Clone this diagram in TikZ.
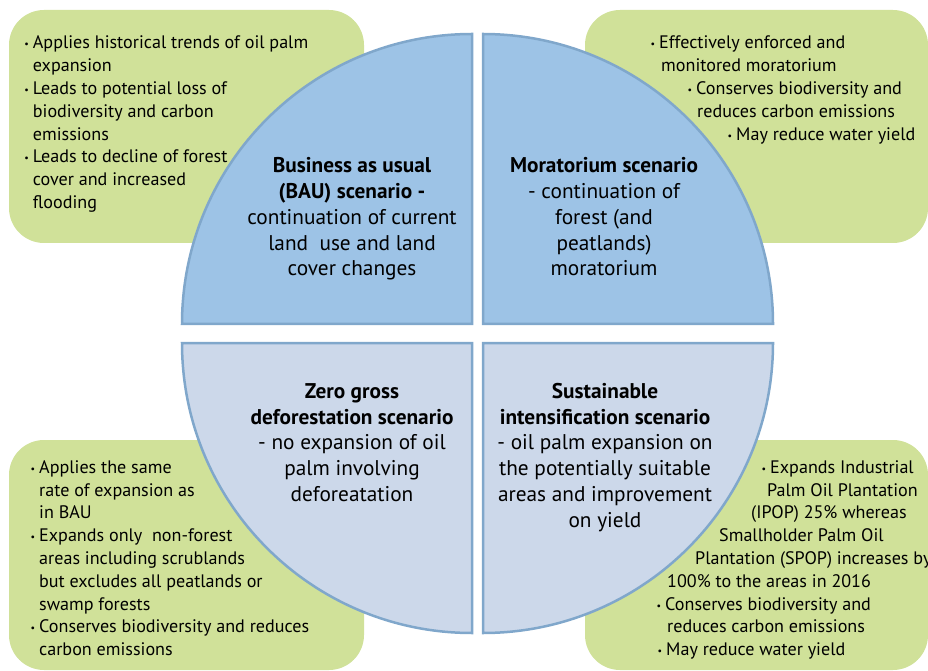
\documentclass[tikz,border=0pt]{standalone}
\usepackage{fontspec}
\setmainfont{PT Sans}
\definecolor{notegreen}{RGB}{208,225,153}
\definecolor{topblue}{RGB}{157,195,230}
\definecolor{lowblue}{RGB}{204,216,234}
\definecolor{quadline}{RGB}{128,167,203}
\newcommand{\bl}{\llap{\raisebox{1pt}{\fontsize{10}{10}\selectfont\textbullet}\hspace{4pt}}}

\begin{document}
\begin{tikzpicture}[x=1pt,y=1pt,
  note/.style={fill=notegreen,rounded corners=35pt},
  quad/.style={draw=quadline,line width=2.5pt,line join=miter},
  item/.style={anchor=base west,inner sep=0pt,font=\fontsize{18.1}{18}\selectfont},
  head/.style={anchor=base,inner sep=0pt,font=\fontsize{21.3}{21}\selectfont}]
\useasboundingbox (0,0) rectangle (928,670);

% green notes, behind the quarters
\fill[note] (9,427) rectangle (364,660);
\fill[note] (585,427) rectangle (928,660);
\fill[note] (9,0) rectangle (364,230);
\fill[note] (585,0) rectangle (928,230);

% the four quarters
\filldraw[quad,fill=topblue] (472,346) -- (182,346) arc[start angle=180,end angle=90,radius=290] -- cycle;
\filldraw[quad,fill=topblue] (483,346) -- (483,636) arc[start angle=90,end angle=0,radius=290] -- cycle;
\filldraw[quad,fill=lowblue] (472,327) -- (472,37) arc[start angle=270,end angle=180,radius=290] -- cycle;
\filldraw[quad,fill=lowblue] (483,327) -- (773,327) arc[start angle=0,end angle=-90,radius=290] -- cycle;

% scenario titles
\foreach \t [count=\i] in {{\bfseries Business as usual},{\bfseries (BAU) scenario -},continuation of current,land~ use and land,cover changes}
  \node[head] (bau\i) at (352,{497.3-(\i-1)*25.8}) {\t};
\foreach \t [count=\i] in {{\bfseries Moratorium scenario},- continuation of,forest (and,peatlands),moratorium}
  \node[head] (mor\i) at (604,{497.3-(\i-1)*25.8}) {\t};
\foreach \t [count=\i] in {{\bfseries Zero gross},{\bfseries deforestation scenario},- no expansion of oil,palm involving,deforeatation}
  \node[head] (zgd\i) at (352,{271.7-(\i-1)*25.8}) {\t};
\foreach \t [count=\i] in {{\bfseries Sustainable},{\bfseries intensification scenario},- oil palm expansion on,the potentially suitable,areas and improvement,on yield}
  \node[head] (sis\i) at (605,{271.7-(\i-1)*25.8}) {\t};

% notes text
\foreach \t [count=\i] in {{\bl Applies historical trends of oil palm},expansion,{\bl Leads to potential loss of},biodiversity and carbon,emissions,{\bl Leads to decline of forest},cover and increased,flooding}
  \node[item] (baunote\i) at (32.7,{621-(\i-1)*22.8}) {\t};
\foreach \x/\t [count=\i] in {659/{\bl Effectively enforced and},661/monitored moratorium,696/{\bl Conserves biodiversity and},697/reduces carbon emissions,736/{\bl May reduce water yield}}
  \node[item] (mornote\i) at (\x,{621-(\i-1)*22.8}) {\t};
\foreach \t [count=\i] in {{\bl Applies the same},rate of expansion as,in BAU,{\bl Expands only~ non-forest},areas including scrublands,but excludes all peatlands or,swamp forests,{\bl Conserves biodiversity and reduces},carbon emissions}
  \node[item] (zgdnote\i) at (39,{196.7-(\i-1)*22.8}) {\t};
\foreach \x/\t [count=\i] in {770/{\bl Expands Industrial},767/Palm Oil Plantation,751/(IPOP) 25\% whereas,719/Smallholder Palm Oil,695/Plantation (SPOP) increases by,667/100\% to the areas in 2016,665/{\bl Conserves biodiversity and},667/reduces carbon emissions,666/{\bl May reduce water yield}}
  \node[item] (sisnote\i) at (\x,{196.7-(\i-1)*22.8}) {\t};
\end{tikzpicture}
\end{document}
